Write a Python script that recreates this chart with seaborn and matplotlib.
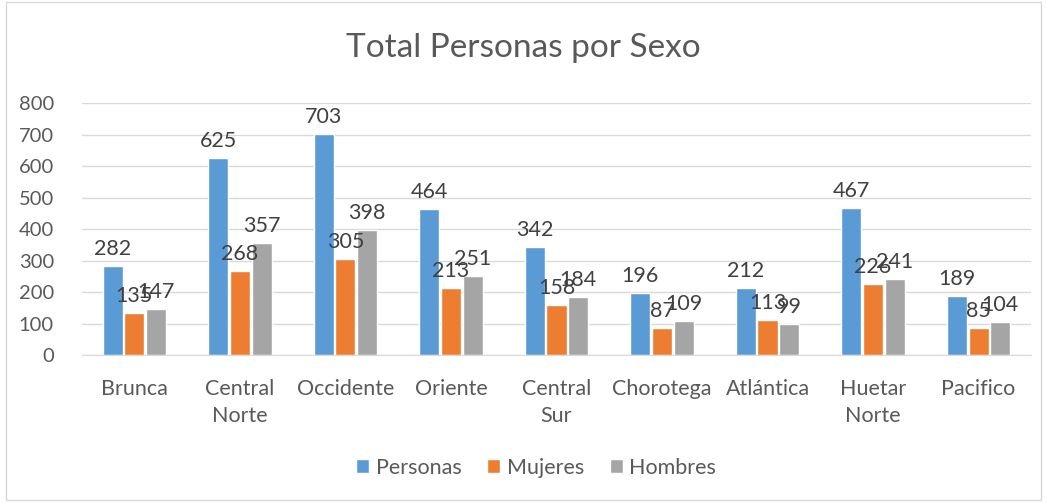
import pandas as pd
import seaborn as sns
import matplotlib.pyplot as plt
from matplotlib.patches import Rectangle

# --- Data ---
regiones = ["Brunca", "Central\nNorte", "Occidente", "Oriente", "Central\nSur",
            "Chorotega", "Atlántica", "Huetar\nNorte", "Pacifico"]
personas = [282, 625, 703, 464, 342, 196, 212, 467, 189]
mujeres = [135, 268, 305, 213, 158, 87, 113, 226, 85]
hombres = [147, 357, 398, 251, 184, 109, 99, 241, 104]
series = ["Personas", "Mujeres", "Hombres"]
colores = ["#5B9BD5", "#ED7D31", "#A5A5A5"]

df = pd.DataFrame({"Region": regiones, "Personas": personas,
                   "Mujeres": mujeres, "Hombres": hombres})
long = df.melt(id_vars="Region", value_vars=series, var_name="Serie", value_name="Valor")

# --- Plot ---
sns.set_style("white")
plt.rcParams['font.family'] = ['Lato', 'DejaVu Sans']
text_col = "#595959"
fs = 15.5

fig = plt.figure(figsize=(10.47, 5.03), dpi=100)
ax = fig.add_axes([0.078, 0.294, 0.907, 0.501])

sns.barplot(data=long, x="Region", y="Valor", hue="Serie", hue_order=series,
            order=regiones, palette=colores, width=0.62, gap=0.08, ax=ax,
            saturation=1, legend=True)

for cont in ax.containers:
    ax.bar_label(cont, fontsize=fs, color="#404040", padding=5)

ax.set_ylim(0, 800)
ax.set_yticks(range(0, 801, 100))
ax.yaxis.grid(True, color="#D9D9D9", linewidth=1)
ax.set_axisbelow(True)
for s in ["top", "right", "left"]:
    ax.spines[s].set_visible(False)
ax.spines["bottom"].set_color("#D9D9D9")
ax.tick_params(axis="both", length=0, labelcolor=text_col)
ax.tick_params(axis="y", pad=20, labelsize=14.5)
ax.tick_params(axis="x", pad=17, labelsize=fs)
for t in ax.get_xticklabels():
    t.set_linespacing(1.45)
ax.set_xlabel("")
ax.set_ylabel("")

fig.text(0.5, 0.905, "Total Personas por Sexo", ha="center", va="center",
         fontsize=24, color=text_col)

handles, labels = ax.get_legend_handles_labels()
ax.legend(handles, labels, loc="center", bbox_to_anchor=(0.512, 0.07),
          bbox_transform=fig.transFigure, ncol=3, frameon=False,
          fontsize=fs, labelcolor=text_col, handlelength=0.6,
          handleheight=0.6, handletextpad=0.3, columnspacing=1.2)

fig.patches.append(Rectangle((0.006, 0.006), 0.988, 0.99, transform=fig.transFigure,
                             fill=False, edgecolor="#D9D9D9", linewidth=1))

plt.savefig("out.png", dpi=100)
